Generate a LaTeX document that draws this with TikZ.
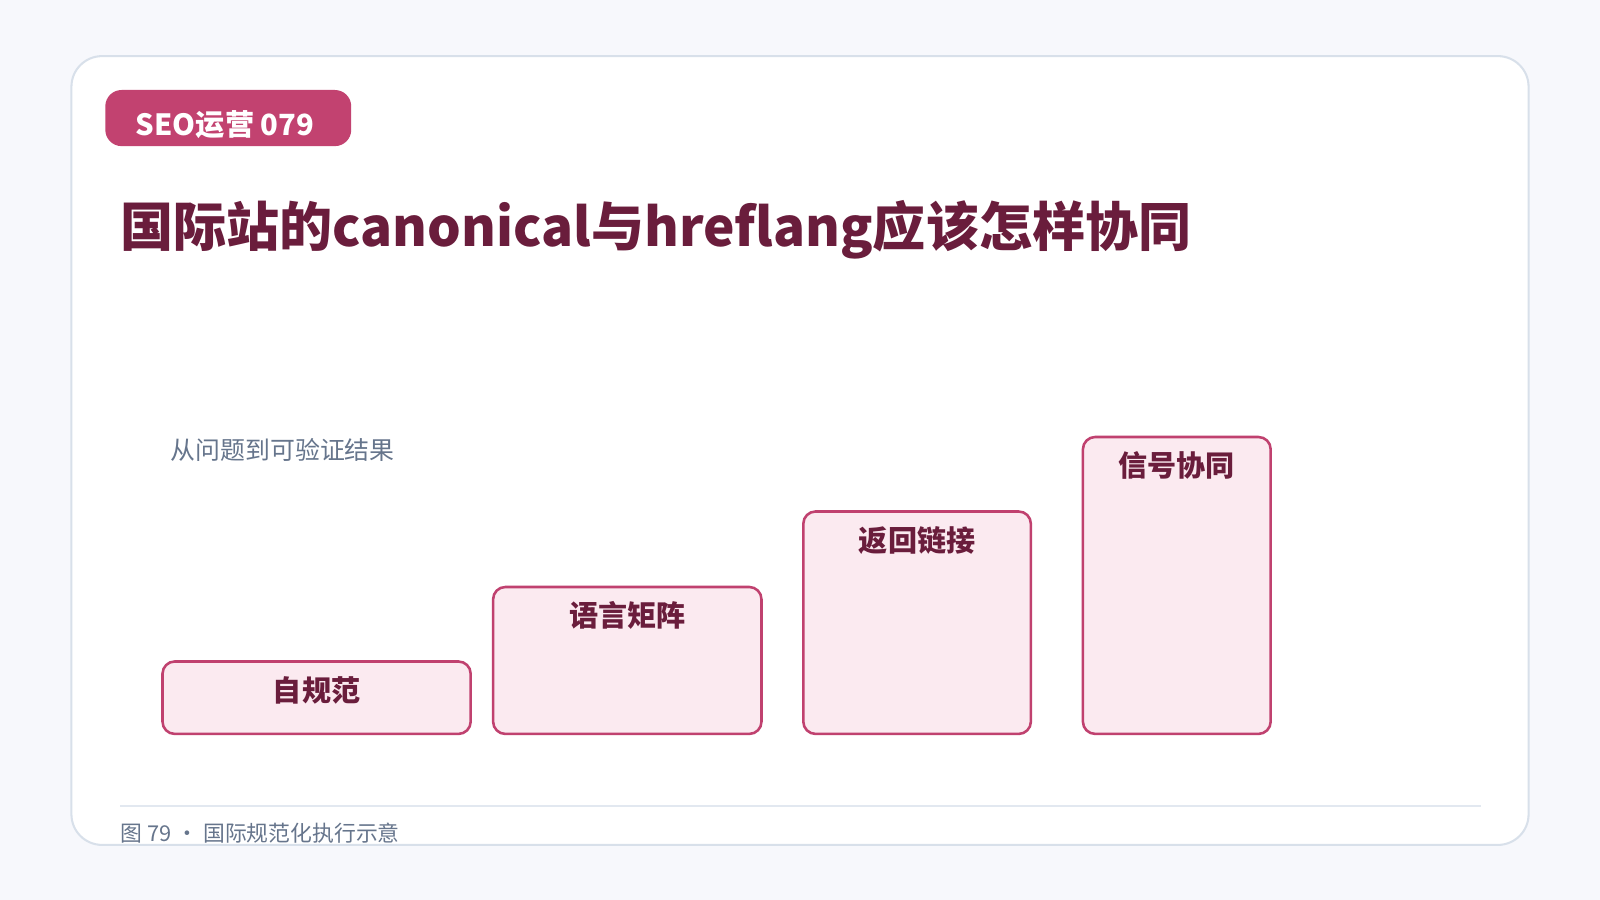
\documentclass[tikz,border=0pt]{standalone}
\usepackage{fontspec}
\setmainfont{Noto Sans CJK SC}
\usetikzlibrary{positioning}

\definecolor{pagebg}{HTML}{F7F8FC}
\definecolor{cardline}{HTML}{D8E0EA}
\definecolor{tagfill}{HTML}{C24270}
\definecolor{titlered}{HTML}{6A1D3C}
\definecolor{subgray}{HTML}{66758C}
\definecolor{barfill}{HTML}{FBEAF0}
\definecolor{barline}{HTML}{C0416F}
\definecolor{ruleline}{HTML}{E2E8F0}

\begin{document}
\begin{tikzpicture}[x=1pt, y=-1pt,
    bar/.style={draw=barline, fill=barfill, line width=2.5pt, rounded corners=12pt,
      inner sep=0pt, anchor=south west},
    barlabel/.style={text=titlered, font=\bfseries\fontsize{28.5}{32}\selectfont, inner sep=0pt}]
    \fill[pagebg] (0, 0) rectangle (1568, 882);
    \useasboundingbox (0, 0) rectangle (1568, 882);
    \draw[cardline, fill=white, line width=2pt, rounded corners=30pt] (70, 55) rectangle (1498, 828);

    \node[fill=tagfill, rounded corners=16pt, minimum width=241pt, minimum height=55pt,
      inner sep=0pt, anchor=north west] (tag) at (103, 88) {};
    \node[text=white, font=\bfseries\fontsize{28.6}{34}\selectfont, inner sep=0pt, anchor=west]
      (tagtext) at (133, 122.5) {SEO运营 079};

    \node[text=titlered, font=\bfseries\fontsize{52}{60}\selectfont, inner sep=0pt, anchor=west]
      (title) at (118, 225) {国际站的canonical与hreflang应该怎样协同};
    \node[text=subgray, font=\fontsize{24.4}{28}\selectfont, inner sep=0pt, anchor=west]
      (subtitle) at (167, 441) {从问题到可验证结果};

    \node[bar, minimum width=302pt, minimum height=71pt] (b1) at (158, 720.5) {};
    \node[bar, minimum width=263pt, minimum height=144pt] (b2) at (482, 720.5) {};
    \node[bar, minimum width=223pt, minimum height=218pt] (b3) at (786, 720.5) {};
    \node[bar, minimum width=184pt, minimum height=291pt] (b4) at (1060, 720.5) {};

    \node[barlabel] (l1) at ([yshift=-29.5pt]b1.north) {自规范};
    \node[barlabel] (l2) at ([yshift=-29.5pt]b2.north) {语言矩阵};
    \node[barlabel] (l3) at ([yshift=-29.5pt]b3.north) {返回链接};
    \node[barlabel] (l4) at ([yshift=-29.5pt]b4.north) {信号协同};

    \coordinate (ruleL) at (118, 790);
    \coordinate (ruleR) at (1451, 790);
    \draw[ruleline, line width=2pt] (ruleL) -- (ruleR);
    \node[text=subgray, font=\fontsize{21.4}{25}\selectfont, inner sep=0pt, anchor=west]
      (caption) at (118, 816.5) {图 79 • 国际规范化执行示意};
\end{tikzpicture}
\end{document}
